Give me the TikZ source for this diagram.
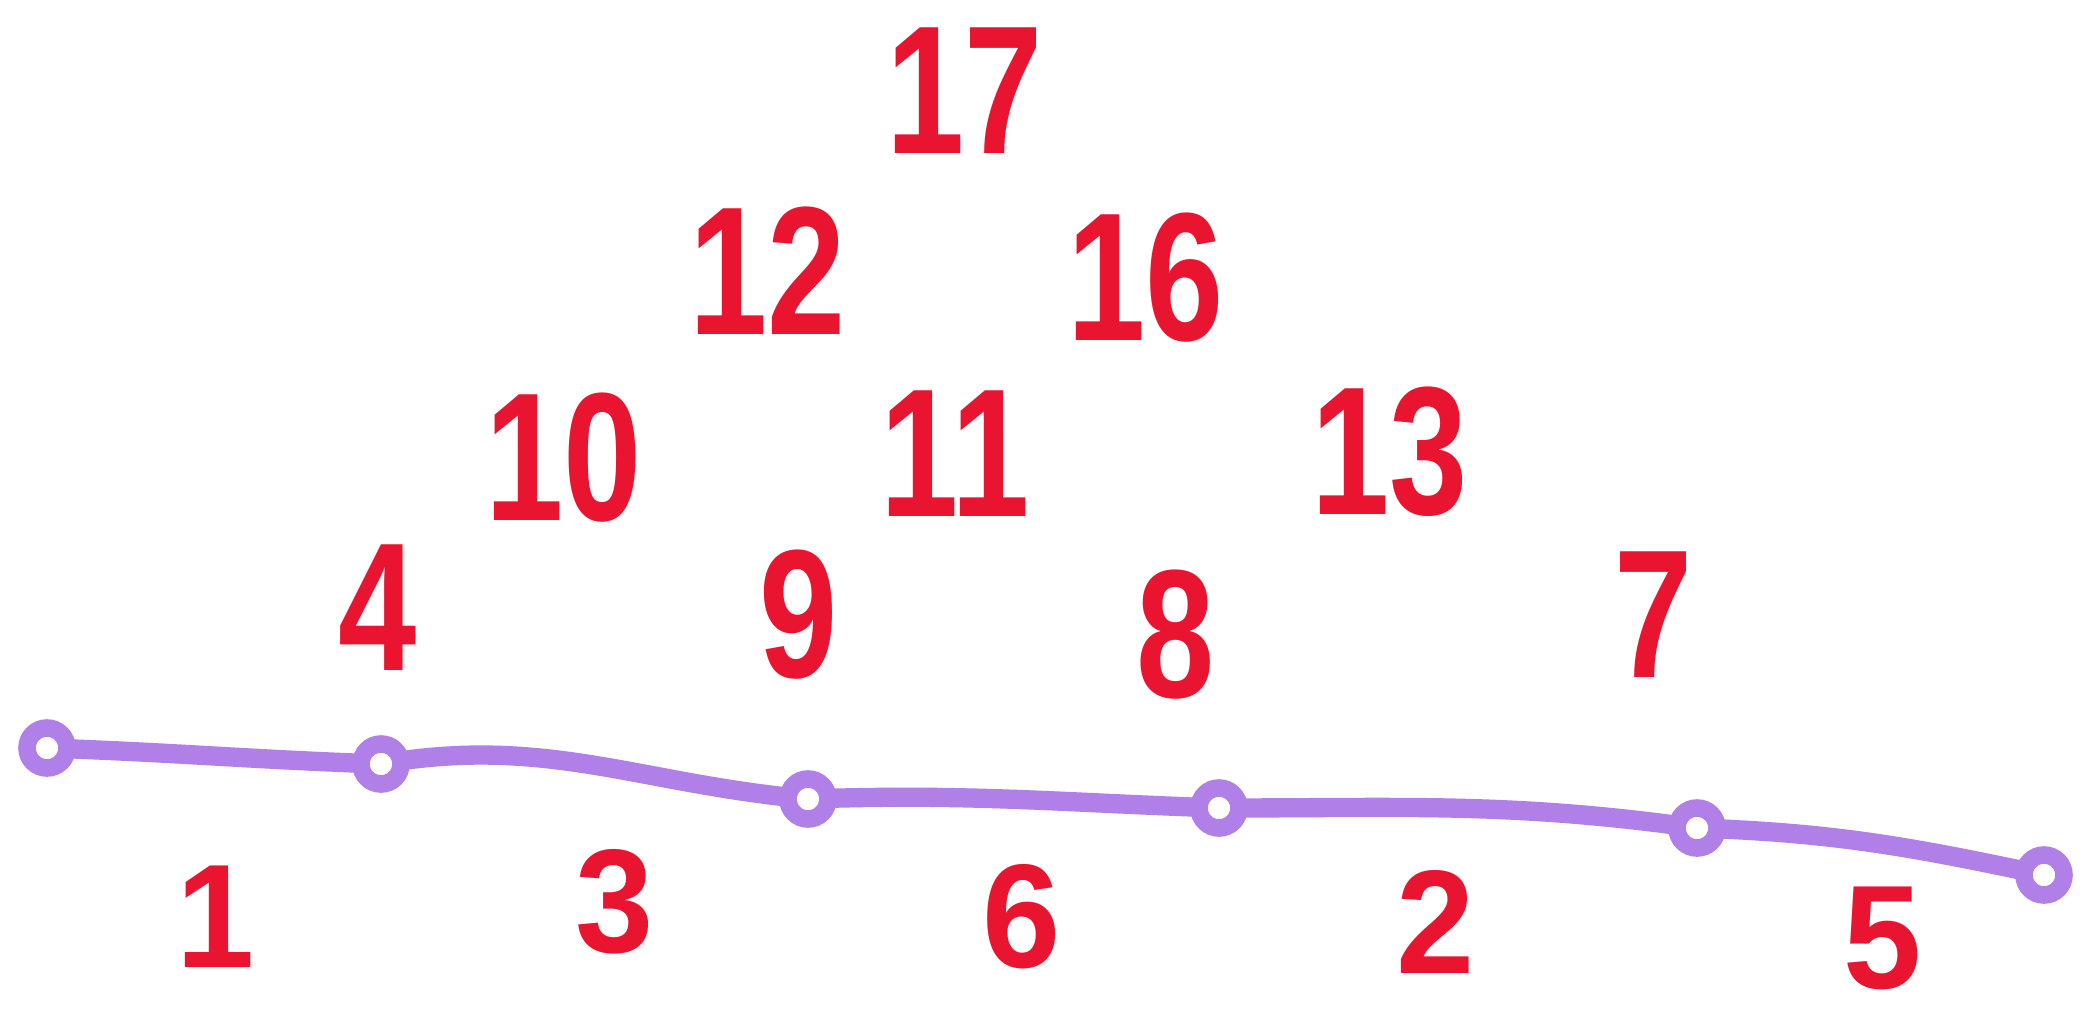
\documentclass[tikz,border=0pt]{standalone}
\usepackage{fontspec}
\setmainfont{Liberation Sans}
\definecolor{ink}{RGB}{232,20,48}
\definecolor{pen}{RGB}{176,128,232}
\newcommand\tallnum[1]{\scalebox{1}[1.3]{#1}}
\newcommand\lownum[1]{\scalebox{1}[1.05]{#1}}
\tikzset{
  num/.style={text=ink, inner sep=0pt, font=\fontsize{40}{40}\selectfont\bfseries},
  knot/.style={circle, draw=pen, fill=white, line width=5pt, minimum size=0.4cm, inner sep=0pt},
  wire/.style={draw=pen, line width=5.5pt, line cap=round}
}
\begin{document}
\begin{tikzpicture}
\useasboundingbox (0,0) rectangle (20.95,10.12);
% numbers
\node[num] (n17) at (9.65,9.21) {\tallnum{17}};
\node[num] (n12) at (7.68,7.41) {\tallnum{12}};
\node[num] (n16) at (11.46,7.34) {\tallnum{16}};
\node[num] (n10) at (5.64,5.54) {\tallnum{10}};
\node[num] (n11) at (9.55,5.58) {\tallnum{11}};
\node[num] (n13) at (13.90,5.60) {\tallnum{13}};
\node[num] (n4) at (3.78,4.04) {\tallnum{4}};
\node[num] (n9) at (7.99,3.97) {\tallnum{9}};
\node[num] (n8) at (11.76,3.77) {\tallnum{8}};
\node[num] (n7) at (16.54,3.97) {\tallnum{7}};
\node[num] (n1) at (2.16,0.95) {\lownum{1}};
\node[num] (n3) at (6.15,1.10) {\lownum{3}};
\node[num] (n6) at (10.22,0.95) {\lownum{6}};
\node[num] (n2) at (14.36,0.90) {\lownum{2}};
\node[num] (n5) at (18.83,0.74) {\lownum{5}};
% line with knots
\draw[wire] (0.47,2.64) coordinate (q1) to[out=-2,in=178] (3.81,2.48) coordinate (q2)
  to[out=10,in=175] (8.08,2.13) coordinate (q3)
  to[out=2,in=178] (12.19,2.04) coordinate (q4)
  to[out=0,in=172] (16.97,1.84) coordinate (q5)
  to[out=-2,in=168] (20.44,1.37) coordinate (q6);
\node[knot] (p1) at (q1) {};
\node[knot] (p2) at (q2) {};
\node[knot] (p3) at (q3) {};
\node[knot] (p4) at (q4) {};
\node[knot] (p5) at (q5) {};
\node[knot] (p6) at (q6) {};
\end{tikzpicture}
\end{document}
